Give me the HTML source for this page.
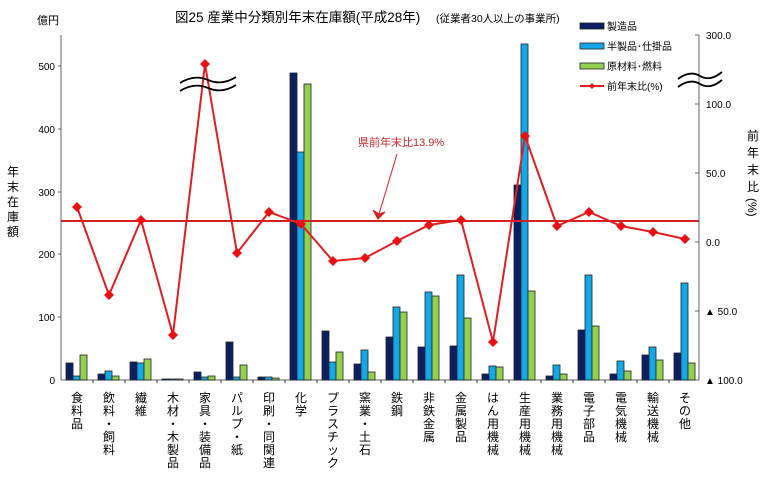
<!DOCTYPE html>
<html><head><meta charset="utf-8"><style>
body{margin:0;background:#fff}
svg{display:block;font-family:"Liberation Sans","Noto Sans CJK JP",sans-serif}
</style></head><body>
<svg width="768" height="478" viewBox="0 0 768 478" xmlns="http://www.w3.org/2000/svg">
<rect width="768" height="478" fill="#fff"/>
<text x="175" y="22" font-size="13.5" fill="#000">図25  産業中分類別年末在庫額(平成28年)</text>
<text x="436" y="22" font-size="10.5" fill="#000">(従業者30人以上の事業所)</text>
<text x="37" y="24" font-size="11">億円</text>
<g font-size="12" text-anchor="middle"><text x="13" y="176">年</text><text x="13" y="191">末</text><text x="13" y="206">在</text><text x="13" y="221">庫</text><text x="13" y="236">額</text></g>
<g font-size="12" text-anchor="middle"><text x="753" y="140">前</text><text x="753" y="157">年</text><text x="753" y="174">末</text><text x="753" y="191">比</text></g>
<text x="748" y="198" font-size="12" transform="rotate(90 748 198)">(%)</text>
<!-- axes -->
<g stroke="#666" stroke-width="1" fill="none">
<line x1="61" y1="35" x2="61" y2="380"/><line x1="699" y1="35" x2="699" y2="380"/><line x1="61" y1="380" x2="699" y2="380"/>
<line x1="58" y1="66" x2="61" y2="66"/><line x1="58" y1="129" x2="61" y2="129"/><line x1="58" y1="192" x2="61" y2="192"/><line x1="58" y1="254" x2="61" y2="254"/><line x1="58" y1="317" x2="61" y2="317"/>
<line x1="695" y1="35" x2="699" y2="35"/><line x1="695" y1="104" x2="699" y2="104"/><line x1="695" y1="173" x2="699" y2="173"/><line x1="695" y1="242" x2="699" y2="242"/><line x1="695" y1="311" x2="699" y2="311"/>
</g>
<g stroke="#333"><path d="M93 380v3M125 380v3M157 380v3M189 380v3M221 380v3M253 380v3M285 380v3M317 380v3M349 380v3M381 380v3M413 380v3M445 380v3M477 380v3M509 380v3M541 380v3M573 380v3M605 380v3M637 380v3M669 380v3"/></g>
<g font-size="10" text-anchor="end"><text x="55" y="70">500</text><text x="55" y="133">400</text><text x="55" y="196">300</text><text x="55" y="258">200</text><text x="55" y="321">100</text><text x="55" y="384">0</text></g>
<g font-size="10"><text x="706" y="39">300.0</text><text x="706" y="108">100.0</text><text x="706" y="177">50.0</text><text x="706" y="246">0.0</text><text x="705" y="315">▲ 50.0</text><text x="705" y="384">▲ 100.0</text></g>
<!-- bars -->
<g stroke="#222" stroke-width="0.8">
<g fill="#0a2060">
<rect x="66" y="363" width="7" height="17"/><rect x="98" y="374" width="7" height="6"/><rect x="130" y="362" width="7" height="18"/><rect x="162" y="379" width="7" height="1"/><rect x="194" y="372" width="7" height="8"/><rect x="226" y="342" width="7" height="38"/><rect x="258" y="377" width="7" height="3"/><rect x="290" y="73" width="7" height="307"/><rect x="322" y="331" width="7" height="49"/><rect x="354" y="364" width="7" height="16"/><rect x="386" y="337" width="7" height="43"/><rect x="418" y="347" width="7" height="33"/><rect x="450" y="346" width="7" height="34"/><rect x="482" y="374" width="7" height="6"/><rect x="514" y="185" width="7" height="195"/><rect x="546" y="376" width="7" height="4"/><rect x="578" y="330" width="7" height="50"/><rect x="610" y="374" width="7" height="6"/><rect x="642" y="355" width="7" height="25"/><rect x="674" y="353" width="7" height="27"/>
</g>
<g fill="#15a8e8">
<rect x="73" y="376" width="7" height="4"/><rect x="105" y="371" width="7" height="9"/><rect x="137" y="363" width="7" height="17"/><rect x="169" y="379" width="7" height="1"/><rect x="201" y="377" width="7" height="3"/><rect x="233" y="377" width="7" height="3"/><rect x="265" y="377" width="7" height="3"/><rect x="297" y="152" width="7" height="228"/><rect x="329" y="362" width="7" height="18"/><rect x="361" y="350" width="7" height="30"/><rect x="393" y="307" width="7" height="73"/><rect x="425" y="292" width="7" height="88"/><rect x="457" y="275" width="7" height="105"/><rect x="489" y="366" width="7" height="14"/><rect x="521" y="44" width="7" height="336"/><rect x="553" y="365" width="7" height="15"/><rect x="585" y="275" width="7" height="105"/><rect x="617" y="361" width="7" height="19"/><rect x="649" y="347" width="7" height="33"/><rect x="681" y="283" width="7" height="97"/>
</g>
<g fill="#92d050">
<rect x="80" y="355" width="7" height="25"/><rect x="112" y="376" width="7" height="4"/><rect x="144" y="359" width="7" height="21"/><rect x="176" y="379" width="7" height="1"/><rect x="208" y="376" width="7" height="4"/><rect x="240" y="365" width="7" height="15"/><rect x="272" y="378" width="7" height="2"/><rect x="304" y="84" width="7" height="296"/><rect x="336" y="352" width="7" height="28"/><rect x="368" y="372" width="7" height="8"/><rect x="400" y="312" width="7" height="68"/><rect x="432" y="296" width="7" height="84"/><rect x="464" y="318" width="7" height="62"/><rect x="496" y="367" width="7" height="13"/><rect x="528" y="291" width="7" height="89"/><rect x="560" y="374" width="7" height="6"/><rect x="592" y="326" width="7" height="54"/><rect x="624" y="371" width="7" height="9"/><rect x="656" y="360" width="7" height="20"/><rect x="688" y="363" width="7" height="17"/>
</g>
</g>
<!-- reference line -->
<line x1="61" y1="221" x2="699" y2="221" stroke="#d42020" stroke-width="2"/>
<text x="358" y="146" font-size="11" fill="#c0282a">県前年末比13.9%</text>
<line x1="397" y1="154" x2="379" y2="214" stroke="#d42020" stroke-width="1"/>
<path d="M373 210 L378 219 L385 212 L379 214 Z" fill="#d42020" stroke="#d42020" stroke-width="1"/>
<!-- line series -->
<polyline fill="none" stroke="#e02020" stroke-width="2" points="77,207 109,295 141,220 173,335 205,64 237,253 269,212 301,224 333,261 365,258 397,241 429,225 461,220 493,342 525,136 557,226 589,212 621,226 653,232 685,239"/>
<g fill="#e81010">
<path d="M77,202l5,5l-5,5l-5,-5z M109,290l5,5l-5,5l-5,-5z M141,215l5,5l-5,5l-5,-5z M173,330l5,5l-5,5l-5,-5z M205,59l5,5l-5,5l-5,-5z M237,248l5,5l-5,5l-5,-5z M269,207l5,5l-5,5l-5,-5z M301,219l5,5l-5,5l-5,-5z M333,256l5,5l-5,5l-5,-5z M365,253l5,5l-5,5l-5,-5z M397,236l5,5l-5,5l-5,-5z M429,220l5,5l-5,5l-5,-5z M461,215l5,5l-5,5l-5,-5z M493,337l5,5l-5,5l-5,-5z M525,131l5,5l-5,5l-5,-5z M557,221l5,5l-5,5l-5,-5z M589,207l5,5l-5,5l-5,-5z M621,221l5,5l-5,5l-5,-5z M653,227l5,5l-5,5l-5,-5z M685,234l5,5l-5,5l-5,-5z"/>
</g>
<!-- break symbols -->
<g fill="none" stroke="#000" stroke-width="1.8">
<path d="M180 83 Q194 74 208 80 T236 77"/><path d="M180 91 Q194 82 208 88 T236 85"/>
<path d="M678 79 Q690 70 700 76 T722 72"/><path d="M678 87 Q690 78 700 84 T722 80"/>
</g>
<!-- legend -->
<rect x="580" y="23" width="24" height="6" fill="#0a2060" stroke="#222" stroke-width="0.8"/><text x="607" y="30" font-size="10">製造品</text>
<rect x="580" y="43" width="24" height="6" fill="#15a8e8" stroke="#222" stroke-width="0.8"/><text x="607" y="50" font-size="10">半製品･仕掛品</text>
<rect x="580" y="63" width="24" height="6" fill="#92d050" stroke="#222" stroke-width="0.8"/><text x="607" y="70" font-size="10">原材料･燃料</text>
<line x1="580" y1="86" x2="604" y2="86" stroke="#e02020" stroke-width="2"/><path d="M592,83l3,3l-3,3l-3,-3z" fill="#e81010"/><text x="607" y="90" font-size="10">前年末比(%)</text>
<!-- category labels -->
<g font-size="12" text-anchor="middle" fill="#000">
<text x="77" y="402">食<tspan x="77" dy="13">料</tspan><tspan x="77" dy="13">品</tspan></text>
<text x="109" y="402">飲<tspan x="109" dy="13">料</tspan><tspan x="109" dy="13">・</tspan><tspan x="109" dy="13">飼</tspan><tspan x="109" dy="13">料</tspan></text>
<text x="141" y="402">繊<tspan x="141" dy="13">維</tspan></text>
<text x="173" y="402">木<tspan x="173" dy="13">材</tspan><tspan x="173" dy="13">・</tspan><tspan x="173" dy="13">木</tspan><tspan x="173" dy="13">製</tspan><tspan x="173" dy="13">品</tspan></text>
<text x="205" y="402">家<tspan x="205" dy="13">具</tspan><tspan x="205" dy="13">・</tspan><tspan x="205" dy="13">装</tspan><tspan x="205" dy="13">備</tspan><tspan x="205" dy="13">品</tspan></text>
<text x="237" y="402">パ<tspan x="237" dy="13">ル</tspan><tspan x="237" dy="13">プ</tspan><tspan x="237" dy="13">・</tspan><tspan x="237" dy="13">紙</tspan></text>
<text x="269" y="402">印<tspan x="269" dy="13">刷</tspan><tspan x="269" dy="13">・</tspan><tspan x="269" dy="13">同</tspan><tspan x="269" dy="13">関</tspan><tspan x="269" dy="13">連</tspan></text>
<text x="301" y="402">化<tspan x="301" dy="13">学</tspan></text>
<text x="333" y="402">プ<tspan x="333" dy="13">ラ</tspan><tspan x="333" dy="13">ス</tspan><tspan x="333" dy="13">チ</tspan><tspan x="333" dy="13">ッ</tspan><tspan x="333" dy="13">ク</tspan></text>
<text x="365" y="402">窯<tspan x="365" dy="13">業</tspan><tspan x="365" dy="13">・</tspan><tspan x="365" dy="13">土</tspan><tspan x="365" dy="13">石</tspan></text>
<text x="397" y="402">鉄<tspan x="397" dy="13">鋼</tspan></text>
<text x="429" y="402">非<tspan x="429" dy="13">鉄</tspan><tspan x="429" dy="13">金</tspan><tspan x="429" dy="13">属</tspan></text>
<text x="461" y="402">金<tspan x="461" dy="13">属</tspan><tspan x="461" dy="13">製</tspan><tspan x="461" dy="13">品</tspan></text>
<text x="493" y="402">は<tspan x="493" dy="13">ん</tspan><tspan x="493" dy="13">用</tspan><tspan x="493" dy="13">機</tspan><tspan x="493" dy="13">械</tspan></text>
<text x="525" y="402">生<tspan x="525" dy="13">産</tspan><tspan x="525" dy="13">用</tspan><tspan x="525" dy="13">機</tspan><tspan x="525" dy="13">械</tspan></text>
<text x="557" y="402">業<tspan x="557" dy="13">務</tspan><tspan x="557" dy="13">用</tspan><tspan x="557" dy="13">機</tspan><tspan x="557" dy="13">械</tspan></text>
<text x="589" y="402">電<tspan x="589" dy="13">子</tspan><tspan x="589" dy="13">部</tspan><tspan x="589" dy="13">品</tspan></text>
<text x="621" y="402">電<tspan x="621" dy="13">気</tspan><tspan x="621" dy="13">機</tspan><tspan x="621" dy="13">械</tspan></text>
<text x="653" y="402">輸<tspan x="653" dy="13">送</tspan><tspan x="653" dy="13">機</tspan><tspan x="653" dy="13">械</tspan></text>
<text x="685" y="402">そ<tspan x="685" dy="13">の</tspan><tspan x="685" dy="13">他</tspan></text>
</g>
</svg>
</body></html>
